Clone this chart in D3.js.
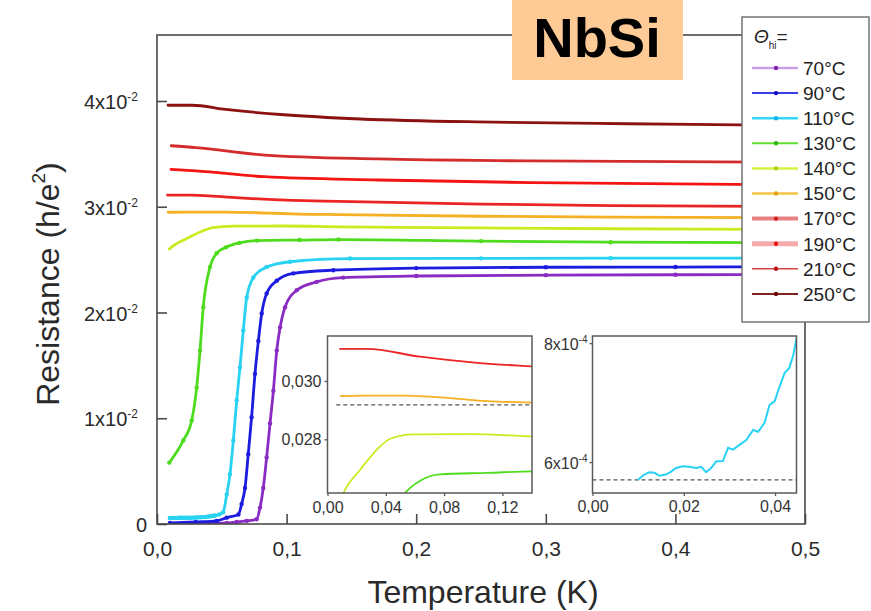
<!DOCTYPE html>
<html>
<head>
<meta charset="utf-8">
<script src="https://cdn.jsdelivr.net/npm/d3@7/dist/d3.min.js"></script>
<style>
  body { margin: 0; background: #fff; }
  text { font-family: "Liberation Sans", Arial, sans-serif; }
</style>
</head>
<body>
<svg id="chart" width="871" height="611"></svg>
<script>
// Annealing temperatures of the NbSi films (legend order)
const annealLabels = ["70°C", "90°C", "110°C", "130°C", "140°C", "150°C", "170°C", "190°C", "210°C", "250°C"];

// Resistance (h/e²) versus temperature (K), one [T, R] list per annealing temperature
const r70 = [[0.010,0.00003],[0.030,0.00004],[0.045,0.00005],[0.054,0.00010],[0.0615,0.0002],[0.0692,0.0003],[0.0769,0.00045],[0.0795,0.00155],[0.082,0.0034],[0.0846,0.0063],[0.0872,0.0095],[0.0898,0.0126],[0.0924,0.0164],[0.095,0.0186],[0.0988,0.0205],[0.1078,0.0221],[0.1232,0.0229],[0.1437,0.0233],[0.20,0.02345],[0.30,0.02353],[0.40,0.02357],[0.49,0.02358]];
const r90 = [[0.010,0.0001],[0.030,0.0002],[0.046,0.0003],[0.0538,0.0006],[0.0628,0.0009],[0.0653,0.0019],[0.0679,0.0034],[0.0704,0.0066],[0.073,0.0101],[0.0756,0.0142],[0.0782,0.0173],[0.0808,0.0199],[0.0846,0.0218],[0.0924,0.0230],[0.1052,0.0237],[0.136,0.0240],[0.20,0.02420],[0.30,0.02428],[0.40,0.02430],[0.49,0.02432]];
const r110 = [[0.0099,0.000570],[0.01136,0.000579],[0.01246,0.000583],[0.0136,0.000582],[0.01466,0.000577],[0.0161,0.000579],[0.01723,0.000584],[0.01833,0.000590],[0.0198,0.000593],[0.0212,0.000592],[0.0227,0.000590],[0.0238,0.000592],[0.0249,0.000583],[0.026,0.000590],[0.0271,0.000601],[0.0286,0.000602],[0.0297,0.000624],[0.0308,0.000621],[0.0322,0.000629],[0.0337,0.000637],[0.0352,0.000654],[0.0363,0.000651],[0.0377,0.000666],[0.0388,0.000696],[0.0399,0.000702],[0.041,0.000727],[0.0421,0.000750],[0.0431,0.000758],[0.044,0.000780],[0.0447,0.000808],[0.048,0.00090],[0.051,0.0011],[0.0538,0.0028],[0.0563,0.0047],[0.0589,0.0079],[0.0615,0.0117],[0.064,0.0148],[0.0666,0.0183],[0.0692,0.0214],[0.0743,0.0233],[0.0846,0.0243],[0.1026,0.0248],[0.149,0.0251],[0.25,0.02512],[0.35,0.02514],[0.49,0.02515]];
const r130 = [[0.0095,0.0058],[0.0203,0.0079],[0.0268,0.0098],[0.0306,0.0129],[0.0332,0.0164],[0.0357,0.0205],[0.0409,0.0243],[0.046,0.0256],[0.0532,0.02616],[0.0635,0.02658],[0.077,0.0268],[0.11,0.02685],[0.14,0.0269],[0.25,0.02675],[0.35,0.02665],[0.49,0.0266]];
const r140 = [[0.0095,0.0260],[0.0109,0.02616],[0.0223,0.02695],[0.0338,0.02764],[0.043,0.02802],[0.0588,0.02817],[0.099,0.02818],[0.14,0.0281],[0.25,0.02800],[0.35,0.02792],[0.49,0.02786]];
const r150 = [[0.0086,0.02948],[0.025,0.0295],[0.053,0.0295],[0.086,0.0294],[0.109,0.02931],[0.14,0.02926],[0.25,0.02910],[0.35,0.02902],[0.49,0.02896]];
const r170 = [[0.0081,0.0311],[0.027,0.0311],[0.0635,0.03083],[0.1047,0.03061],[0.14,0.0305],[0.25,0.03025],[0.35,0.0301],[0.49,0.03002]];
const r190 = [[0.0108,0.03354],[0.03,0.0334],[0.083,0.03284],[0.171,0.03253],[0.289,0.03228],[0.49,0.03208]];
const r210 = [[0.011,0.03577],[0.03,0.0356],[0.083,0.03489],[0.171,0.03452],[0.289,0.03433],[0.49,0.0342]];
const r250 = [[0.0085,0.0396],[0.027,0.0396],[0.053,0.0392],[0.098,0.0387],[0.157,0.0383],[0.26,0.0380],[0.363,0.03785],[0.45,0.03775],[0.49,0.0377]];

// Reference levels marked by dashed lines in the insets
const insetLevelMid = 0.02918;
const insetLevelLow = 0.000570;

// Tick values and labels
const xTicks = [0, 0.1, 0.2, 0.3, 0.4, 0.5];
const xTickLabels = ["0,0", "0,1", "0,2", "0,3", "0,4", "0,5"];
const yTicks = [0, 0.01, 0.02, 0.03, 0.04];
const yTickMant = ["0", "1x10", "2x10", "3x10", "4x10"];
const yTickExp = ["", "-2", "-2", "-2", "-2"];
const in1XTicks = [0, 0.04, 0.08, 0.12];
const in1XLabels = ["0,00", "0,04", "0,08", "0,12"];
const in1YTicks = [0.028, 0.030];
const in1YLabels = ["0,028", "0,030"];
const in2XTicks = [0, 0.02, 0.04];
const in2XLabels = ["0,00", "0,02", "0,04"];
const in2YTicks = [0.0006, 0.0008];
const in2YMant = ["6x10", "8x10"];
const in2YExp = ["-4", "-4"];

// Styling per series
const seriesData = [r70, r90, r110, r130, r140, r150, r170, r190, r210, r250];
const curveColors = ["#8a2cc4", "#1c1ce0", "#28d2f2", "#4fdc1e", "#c9ec20", "#f5b023", "#ec2424", "#f41414", "#d42c2c", "#8c1212"];
const withMarkers = [true, true, true, true, false, false, false, false, false, false];
const legendLine = ["#c8a0e8", "#3c3ce8", "#34d8f5", "#64e034", "#d8f040", "#f5c444", "#e88282", "#f4aaaa", "#d24444", "#7e2222"];
const legendLineW = [2.5, 2, 2.5, 2, 2.5, 2.5, 4, 5, 1.5, 2];
const legendMarker = ["#7a22b0", "#1010c0", "#12b4e4", "#32b012", "#b4d012", "#e0a012", "#d02020", "#e81010", "#c01010", "#6e0000"];

const svg = d3.select("#chart");
const axisColor = "#4a4a4a";
const labelColor = "#2a2a2a";

// ---------- main panel ----------
const M = { left: 157, right: 805, top: 35, bottom: 524 };
const x = d3.scaleLinear().domain([0, 0.5]).range([M.left, M.right]);
const y = d3.scaleLinear().domain([0, 0.04]).range([M.bottom, 101]);

svg.append("defs").append("clipPath").attr("id", "mainClip")
  .append("rect").attr("x", M.left).attr("y", M.top)
  .attr("width", M.right - M.left).attr("height", M.bottom - M.top);

const line = d3.line().x(d => x(d[0])).y(d => y(d[1])).curve(d3.curveMonotoneX);
const mainG = svg.append("g").attr("clip-path", "url(#mainClip)");
seriesData.forEach((s, i) => {
  mainG.append("path").datum(s).attr("d", line)
    .attr("fill", "none").attr("stroke", curveColors[i])
    .attr("stroke-width", 2.8).attr("stroke-linejoin", "round").attr("stroke-linecap", "round");
  if (withMarkers[i]) {
    mainG.selectAll(null).data(s).enter().append("circle")
      .attr("cx", d => x(d[0])).attr("cy", d => y(d[1])).attr("r", 2.2)
      .attr("fill", curveColors[i]);
  }
});

// frame
svg.append("rect").attr("x", M.left).attr("y", M.top)
  .attr("width", M.right - M.left).attr("height", M.bottom - M.top)
  .attr("fill", "none").attr("stroke", axisColor).attr("stroke-width", 1.6);

// x axis (inward ticks)
const xAxisG = svg.append("g").attr("transform", `translate(0,${M.bottom})`)
  .call(d3.axisBottom(x).tickValues(xTicks).tickSizeInner(-10).tickSizeOuter(0).tickPadding(17)
    .tickFormat((d, i) => xTickLabels[i]));
xAxisG.select(".domain").remove();
xAxisG.selectAll(".tick line").attr("stroke", axisColor).attr("stroke-width", 1.6);
xAxisG.selectAll(".tick text").attr("font-size", 21).attr("fill", labelColor)
  .style("font-family", "'Liberation Sans', Arial, sans-serif");

// y axis (inward ticks, exponent labels)
const yAxisG = svg.append("g").attr("transform", `translate(${M.left},0)`)
  .call(d3.axisLeft(y).tickValues(yTicks).tickSizeInner(-10).tickSizeOuter(0).tickFormat(() => ""));
yAxisG.select(".domain").remove();
yAxisG.selectAll(".tick line").attr("stroke", axisColor).attr("stroke-width", 1.6);
yAxisG.selectAll(".tick text").each(function (d, i) {
  const t = d3.select(this);
  t.attr("x", yTickExp[i] ? -19 : -10).attr("dy", "0.38em")
    .attr("font-size", 20).attr("fill", labelColor)
    .style("font-family", "'Liberation Sans', Arial, sans-serif");
  t.append("tspan").text(yTickMant[i]);
  if (yTickExp[i]) t.append("tspan").attr("font-size", 12).attr("dy", -8).text(yTickExp[i]);
});

// axis titles
svg.append("text").attr("x", 483).attr("y", 603).attr("text-anchor", "middle")
  .attr("font-size", 32).attr("fill", labelColor).text("Temperature (K)");
const yTitle = svg.append("text").attr("transform", "translate(59,284) rotate(-90)")
  .attr("text-anchor", "middle").attr("font-size", 32).attr("fill", labelColor);
yTitle.append("tspan").text("Resistance (h/e");
yTitle.append("tspan").attr("font-size", 19).attr("dy", -14).text("2");
yTitle.append("tspan").attr("dy", 14).text(")");

// ---------- inset helper ----------
function drawInset(id, box, xDomain, yDomain) {
  const ix = d3.scaleLinear().domain(xDomain).range([box.x0, box.x1]);
  const iy = d3.scaleLinear().domain(yDomain).range([box.y1, box.y0]);
  svg.append("rect").attr("x", box.x0).attr("y", box.y0)
    .attr("width", box.x1 - box.x0).attr("height", box.y1 - box.y0).attr("fill", "#fff");
  svg.append("defs").append("clipPath").attr("id", id)
    .append("rect").attr("x", box.x0).attr("y", box.y0)
    .attr("width", box.x1 - box.x0).attr("height", box.y1 - box.y0);
  const g = svg.append("g").attr("clip-path", `url(#${id})`);
  const l = d3.line().x(d => ix(d[0])).y(d => iy(d[1])).curve(d3.curveMonotoneX);
  return { ix, iy, g, l };
}
function frameInset(box) {
  svg.append("rect").attr("x", box.x0).attr("y", box.y0)
    .attr("width", box.x1 - box.x0).attr("height", box.y1 - box.y0)
    .attr("fill", "none").attr("stroke", "#5a5a5a").attr("stroke-width", 1.5);
}
function styleInsetAxis(g) {
  g.select(".domain").remove();
  g.selectAll(".tick line").attr("stroke", "#5a5a5a").attr("stroke-width", 1.3);
  g.selectAll(".tick text").attr("font-size", 16).attr("fill", "#333")
    .style("font-family", "'Liberation Sans', Arial, sans-serif");
}

// ---------- inset 1: the 130–170 °C curves at low temperature ----------
const box1 = { x0: 327.5, x1: 532, y0: 336, y1: 493 };
const in1 = drawInset("clip1", box1, [0, 0.1403], [0.02616, 0.03154]);
in1.g.append("line").attr("x1", in1.ix(0.006)).attr("x2", in1.ix(0.1403))
  .attr("y1", in1.iy(insetLevelMid)).attr("y2", in1.iy(insetLevelMid))
  .attr("stroke", "#555").attr("stroke-width", 1.3).attr("stroke-dasharray", "4,3");
[[r170, 6], [r150, 5], [r140, 4], [r130, 3]].forEach(([s, ci]) => {
  in1.g.append("path").datum(s).attr("d", in1.l).attr("fill", "none")
    .attr("stroke", curveColors[ci]).attr("stroke-width", 1.8);
});
frameInset(box1);
const in1X = svg.append("g").attr("transform", `translate(0,${box1.y1})`)
  .call(d3.axisBottom(in1.ix).tickValues(in1XTicks).tickSize(3).tickPadding(6)
    .tickFormat((d, i) => in1XLabels[i]));
styleInsetAxis(in1X);
const in1Y = svg.append("g").attr("transform", `translate(${box1.x0},0)`)
  .call(d3.axisLeft(in1.iy).tickValues(in1YTicks).tickSize(3).tickPadding(3)
    .tickFormat((d, i) => in1YLabels[i]));
styleInsetAxis(in1Y);

// ---------- inset 2: the 110 °C curve just above its residual level ----------
const box2 = { x0: 592.5, x1: 796.5, y0: 336, y1: 493 };
const in2 = drawInset("clip2", box2, [0, 0.0447], [0.000548, 0.000812]);
in2.g.append("line").attr("x1", box2.x0).attr("x2", box2.x1)
  .attr("y1", in2.iy(insetLevelLow)).attr("y2", in2.iy(insetLevelLow))
  .attr("stroke", "#555").attr("stroke-width", 1.2).attr("stroke-dasharray", "4,3");
in2.g.append("path").datum(r110).attr("d", in2.l.curve(d3.curveLinear)).attr("fill", "none")
  .attr("stroke", curveColors[2]).attr("stroke-width", 2);
frameInset(box2);
const in2X = svg.append("g").attr("transform", `translate(0,${box2.y1})`)
  .call(d3.axisBottom(in2.ix).tickValues(in2XTicks).tickSize(3).tickPadding(5)
    .tickFormat((d, i) => in2XLabels[i]));
styleInsetAxis(in2X);
const in2Y = svg.append("g").attr("transform", `translate(${box2.x0},0)`)
  .call(d3.axisLeft(in2.iy).tickValues(in2YTicks).tickSize(3).tickFormat(() => ""));
styleInsetAxis(in2Y);
in2Y.selectAll(".tick text").each(function (d, i) {
  const t = d3.select(this).attr("x", -5).attr("dy", "0.38em");
  t.append("tspan").text(in2YMant[i]);
  t.append("tspan").attr("font-size", 10).attr("dy", -7).text(in2YExp[i]);
});

// ---------- legend ----------
const lg = svg.append("g");
lg.append("rect").attr("x", 742).attr("y", 17).attr("width", 127).attr("height", 305)
  .attr("fill", "#fff").attr("stroke", "#6a6a6a").attr("stroke-width", 1.4);
const lgTitle = lg.append("text").attr("x", 754).attr("y", 43).attr("fill", "#222");
lgTitle.append("tspan").attr("font-size", 19).attr("font-style", "italic").text("Θ");
lgTitle.append("tspan").attr("font-size", 10).attr("dy", 6).text("hi");
lgTitle.append("tspan").attr("font-size", 19).attr("dy", -6).text("=");
annealLabels.forEach((lab, i) => {
  const yy = 68 + i * 25.1;
  lg.append("line").attr("x1", 752).attr("x2", 798).attr("y1", yy).attr("y2", yy)
    .attr("stroke", legendLine[i]).attr("stroke-width", legendLineW[i]);
  lg.append("circle").attr("cx", 776).attr("cy", yy).attr("r", 2.2).attr("fill", legendMarker[i]);
  lg.append("text").attr("x", 803).attr("y", yy).attr("dy", "0.36em")
    .attr("font-size", 19).attr("fill", "#222").text(lab);
});

// ---------- material tag ----------
svg.append("rect").attr("x", 512).attr("y", 0).attr("width", 171).attr("height", 80).attr("fill", "#fecb96");
svg.append("text").attr("x", 597).attr("y", 57).attr("text-anchor", "middle")
  .attr("font-size", 56).attr("font-weight", 700).attr("fill", "#000")
  .style("font-family", "'Liberation Sans', Arial, sans-serif").text("NbSi");
</script>
</body>
</html>
